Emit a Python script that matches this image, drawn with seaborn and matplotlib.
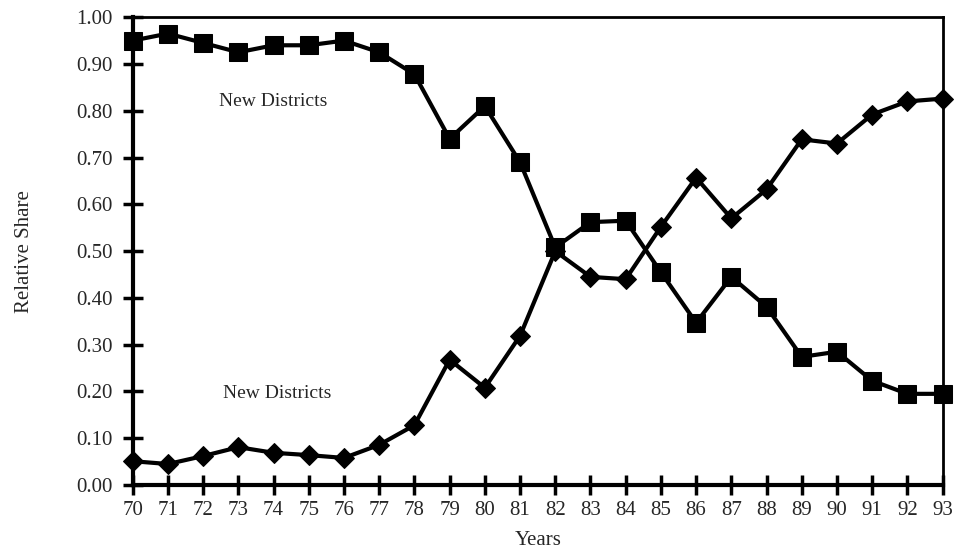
import matplotlib
matplotlib.use("Agg")
import matplotlib.pyplot as plt
import pandas as pd
import seaborn as sns

# Data
years = list(range(70, 94))
upper_share = [0.95, 0.965, 0.945, 0.925, 0.94, 0.94, 0.95, 0.925, 0.878, 0.74,
               0.81, 0.69, 0.508, 0.562, 0.565, 0.455, 0.347, 0.445, 0.381, 0.274,
               0.285, 0.223, 0.195, 0.195]
lower_share = [0.051, 0.045, 0.062, 0.081, 0.069, 0.064, 0.058, 0.086, 0.128, 0.268,
               0.208, 0.319, 0.50, 0.445, 0.44, 0.552, 0.657, 0.57, 0.632, 0.739,
               0.73, 0.792, 0.82, 0.826]
y_ticks = [0.0, 0.1, 0.2, 0.3, 0.4, 0.5, 0.6, 0.7, 0.8, 0.9, 1.0]

df = pd.DataFrame({
    "year": years * 2,
    "share": upper_share + lower_share,
    "series": ["upper"] * len(years) + ["lower"] * len(years),
})

sns.set_style("ticks")
plt.rcParams["font.family"] = ["Liberation Serif", "DejaVu Serif"]

fig = plt.figure(figsize=(9.55, 5.55), dpi=100)
ax = fig.add_axes([0.139, 0.126, 0.848, 0.843])

sns.lineplot(data=df, x="year", y="share", hue="series", style="series",
             markers={"upper": "s", "lower": "D"}, dashes=False,
             palette={"upper": "black", "lower": "black"},
             linewidth=3, legend=False, ax=ax, clip_on=False)
for line in ax.lines:
    if line.get_marker() == "s":
        line.set_markersize(13)
    else:
        line.set_markersize(10)
    line.set_markeredgecolor("black")

ax.set_xlim(70, 93)
ax.set_ylim(0, 1.0)
ax.set_xticks(years)
ax.set_xticklabels([str(y) for y in years], fontsize=15)
ax.set_yticks(y_ticks)
ax.set_yticklabels([f"{v:.2f}" for v in y_ticks], fontsize=15)
ax.tick_params(axis="both", direction="inout", length=15, width=2.5, color="black")
ax.tick_params(axis="x", pad=4)
ax.tick_params(axis="y", pad=7)

for side in ["left", "bottom"]:
    ax.spines[side].set_linewidth(3)
for side in ["top", "right"]:
    ax.spines[side].set_visible(True)
    ax.spines[side].set_linewidth(2)
for sp in ax.spines.values():
    sp.set_color("black")

ax.set_xlabel("Years", fontsize=15, labelpad=8)
ax.set_ylabel("Relative Share", fontsize=15, labelpad=30)

ax.text(74, 0.82, "New Districts", fontsize=14, ha="center", va="center")
ax.text(74.1, 0.195, "New Districts", fontsize=14, ha="center", va="center")

fig.savefig("out.png", dpi=100)
